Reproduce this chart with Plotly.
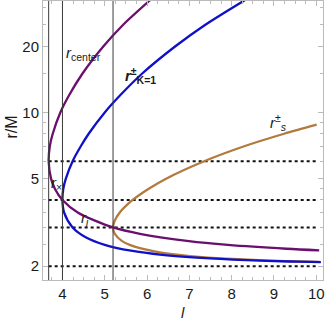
import math
import plotly.graph_objects as go

# (l, r) samples
purple_l = [6.07, 5.43, 4.97, 4.47, 4.16, 3.95, 3.77, 3.70, 3.674, 3.73, 3.82, 4.0, 4.37, 5.196, 5.86, 6.99, 7.91, 9.30, 10.07]
purple_r = [32.4, 25, 20, 15, 12, 10, 8, 7, 6, 5, 4.5, 4, 3.5, 3, 2.8, 2.6, 2.5, 2.4, 2.36]

blue_l = [8.31, 7.37, 6.67, 5.88, 5.37, 5.0, 4.62, 4.43, 4.24, 4.08, 4.02, 4.0, 4.04, 4.24, 4.56, 5.0, 5.62, 6.36, 7.27, 8.35, 9.39, 9.85, 10.11]
blue_r = [32.4, 25, 20, 15, 12, 10, 8, 7, 6, 5, 4.5, 4, 3.5, 3, 2.7, 2.5, 2.35, 2.25, 2.18, 2.13, 2.1, 2.09, 2.085]

brown_l = [10.01, 9.24, 8.28, 7.35, 6.45, 6.04, 5.66, 5.35, 5.23, 5.196, 5.24, 5.41, 5.59, 5.88, 6.37, 7.30, 8.14, 8.91, 9.62, 10.07]
brown_r = [8.8, 8, 7, 6, 5, 4.5, 4, 3.5, 3.2, 3, 2.8, 2.6, 2.5, 2.4, 2.3, 2.2, 2.15, 2.12, 2.1, 2.09]

vlines = [3.674, 4.0, 5.196]
hlines = [6, 4, 3, 2]
l_max = 10

x_ticks = [4, 5, 6, 7, 8, 9, 10]
y_ticks = [2, 5, 10, 20]
y_minor = [2.5, 3, 3.5, 4, 4.5, 6, 7, 8, 9, 15, 25, 30]

fig = go.Figure()

for v in vlines:
    fig.add_vline(x=v, line=dict(color="#3a3a3a", width=1))

for h in hlines:
    fig.add_trace(go.Scatter(x=[vlines[0], l_max], y=[h, h], mode="lines",
                             line=dict(color="#111", width=2, dash="dot"),
                             showlegend=False, hoverinfo="skip"))

for lx, ry, col in [(brown_l, brown_r, "#b27a3c"), (blue_l, blue_r, "#1010c8"),
                    (purple_l, purple_r, "#6a0f6e")]:
    fig.add_trace(go.Scatter(x=lx, y=ry, mode="lines",
                             line=dict(color=col, width=2.3, shape="spline", smoothing=0.8),
                             showlegend=False))

fam = "Liberation Sans, Arial, sans-serif"
font = dict(family=fam, size=15, color="#1a1a1a")
labels = [
    (4.03, 18.6, "<i>r</i><sub>center</sub>"),
    (5.44, 14.8, "<b><i>r</i><sup>±</sup><sub>K=1</sub></b>"),
    (8.87, 9.0, "<i>r</i><sup>±</sup><sub><i>s</i></sub>"),
    (3.67, 4.77, "<i>r</i><sub>×</sub>"),
    (4.38, 3.3, "<i>r</i><sub><i>j</i></sub>"),
]
for lx, ry, txt in labels:
    fig.add_annotation(x=lx, y=math.log10(ry), text=txt, showarrow=False, xanchor="left",
                       yanchor="middle", font=font)

# axis titles
fig.add_annotation(xref="paper", yref="paper", x=0.5, y=-0.118, text="<i>l</i>",
                   showarrow=False, yanchor="middle", font=font)
fig.add_annotation(xref="paper", yref="paper", x=-0.111, y=0.55, text="r/M", textangle=-90,
                   showarrow=False, xanchor="center", font=dict(family=fam, size=16, color="#1a1a1a"))

axis_common = dict(showgrid=False, zeroline=False, showline=True, linecolor="#bbbbbb",
                   linewidth=1, mirror="ticks", ticks="inside", ticklen=5,
                   tickcolor="#bbbbbb", tickfont=font, automargin=False)

fig.update_xaxes(range=[3.54, 10.16], tickvals=x_ticks,
                 minor=dict(ticks="inside", ticklen=3, tickcolor="#bbbbbb", dtick=0.25),
                 **axis_common)
fig.update_yaxes(type="log", range=[0.238, 1.507], tickvals=y_ticks,
                 minor=dict(ticks="inside", ticklen=3, tickcolor="#bbbbbb", tickvals=y_minor),
                 **axis_common)

fig.update_layout(width=327, height=324, margin=dict(l=43, r=4, t=1, b=44),
                  plot_bgcolor="white", paper_bgcolor="white")

# the page body has a default 8px margin; drop it so the figure sits at the corner
fig.write_html("out.html", config={"displayModeBar": False},
               post_script="document.body.style.margin='0';")
